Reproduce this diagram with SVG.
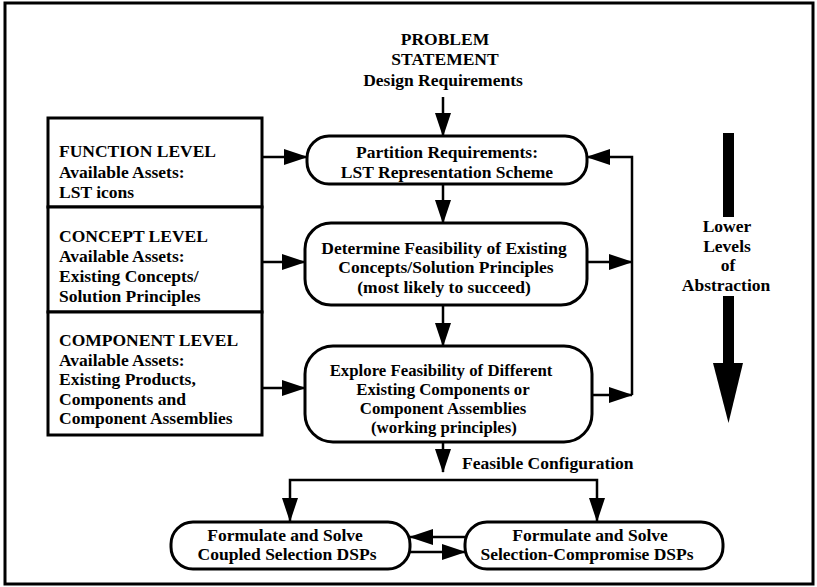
<svg xmlns="http://www.w3.org/2000/svg" width="817" height="587" viewBox="0 0 817 587">
  <style>
    text { font-family: "Liberation Serif", "Times New Roman", serif; font-size: 17.5px; font-weight: bold; fill: #000; }
    .c { text-anchor: middle; }
    .sm { font-size: 16.8px; }
    .box { fill: #fff; stroke: #000; stroke-width: 3; }
    .conn { fill: none; stroke: #000; stroke-width: 2.5; }
  </style>
  <defs>
    <marker id="arrow" markerUnits="userSpaceOnUse" markerWidth="24" markerHeight="16" viewBox="0 0 24 16" refX="23" refY="8" orient="auto">
      <path d="M0,0 L24,8 L0,16 Z" fill="#000"/>
    </marker>
  </defs>

  <rect x="0" y="0" width="817" height="587" fill="#fff"/>
  <!-- outer frame -->
  <rect x="5" y="3" width="808" height="581" fill="none" stroke="#000" stroke-width="3"/>

  <!-- problem statement -->
  <g id="problem-statement">
    <text class="c" x="445" y="45">PROBLEM</text>
    <text class="c" x="445" y="65">STATEMENT</text>
    <text class="c" x="443" y="86">Design Requirements</text>
  </g>

  <!-- asset levels -->
  <g id="function-level">
    <rect class="box" x="48" y="118" width="214" height="89"/>
    <text x="59" y="157">FUNCTION LEVEL</text>
    <text x="59" y="177.5">Available Assets:</text>
    <text x="59" y="198">LST icons</text>
  </g>
  <g id="concept-level">
    <rect class="box" x="48" y="207" width="214" height="105"/>
    <text x="59" y="242">CONCEPT LEVEL</text>
    <text x="59" y="262">Available Assets:</text>
    <text x="59" y="282">Existing Concepts/</text>
    <text x="59" y="302">Solution Principles</text>
  </g>
  <g id="component-level">
    <rect class="box" x="48" y="312" width="214" height="123"/>
    <text x="59" y="346">COMPONENT LEVEL</text>
    <text x="59" y="365.6">Available Assets:</text>
    <text x="59" y="385.2">Existing Products,</text>
    <text x="59" y="404.8">Components and</text>
    <text x="59" y="424.4">Component Assemblies</text>
  </g>

  <!-- process steps -->
  <g id="partition">
    <rect class="box" x="307" y="136" width="280" height="48" rx="22"/>
    <text class="c" x="447" y="158">Partition Requirements:</text>
    <text class="c" x="447" y="177.6">LST Representation Scheme</text>
  </g>
  <g id="determine">
    <rect class="box" x="305" y="223" width="282" height="82" rx="26"/>
    <text class="c" x="444" y="253.5">Determine Feasibility of Existing</text>
    <text class="c" x="446" y="273">Concepts/Solution Principles</text>
    <text class="c" x="444" y="292.5">(most likely to succeed)</text>
  </g>
  <g id="explore">
    <rect class="box" x="305" y="346" width="287" height="96" rx="28"/>
    <text class="c sm" x="441" y="375.5">Explore Feasibility of Different</text>
    <text class="c sm" x="443" y="394.5">Existing Components or</text>
    <text class="c sm" x="443" y="413.5">Component Assemblies</text>
    <text class="c sm" x="444" y="432.5">(working principles)</text>
  </g>
  <g id="coupled">
    <rect class="box" x="171" y="522" width="239" height="47" rx="22"/>
    <text class="c" x="285" y="540.5">Formulate and Solve</text>
    <text class="c" x="287" y="560">Coupled Selection DSPs</text>
  </g>
  <g id="compromise">
    <rect class="box" x="465" y="522" width="258" height="47" rx="22"/>
    <text class="c" x="590" y="540.5">Formulate and Solve</text>
    <text class="c" x="587" y="560">Selection-Compromise DSPs</text>
  </g>

  <!-- abstraction indicator -->
  <g id="abstraction">
    <rect x="723" y="133" width="11" height="84" fill="#000"/>
    <text class="c" x="727" y="232">Lower</text>
    <text class="c" x="727" y="251.5">Levels</text>
    <text class="c" x="728" y="271">of</text>
    <text class="c" x="726" y="290.5">Abstraction</text>
    <rect x="723" y="296" width="11" height="67" fill="#000"/>
    <polygon points="713,363 743,363 728.5,423" fill="#000"/>
  </g>

  <text id="feasible-label" x="462" y="469">Feasible Configuration</text>

  <!-- connectors -->
  <g id="connectors">
    <path class="conn" d="M443,97 V136" marker-end="url(#arrow)"/>
    <path class="conn" d="M443,184 V223" marker-end="url(#arrow)"/>
    <path class="conn" d="M443,305 V346" marker-end="url(#arrow)"/>
    <path class="conn" d="M443,442 V472" marker-end="url(#arrow)"/>

    <path class="conn" d="M262,157 H307" marker-end="url(#arrow)"/>
    <path class="conn" d="M262,262 H305" marker-end="url(#arrow)"/>
    <path class="conn" d="M262,388 H305" marker-end="url(#arrow)"/>

    <path class="conn" d="M587,262 H632" marker-end="url(#arrow)"/>
    <path class="conn" d="M592,395 H632" marker-end="url(#arrow)"/>
    <path class="conn" d="M632,395 V157 H587" marker-end="url(#arrow)"/>

    <path class="conn" d="M444,480 H290 V521" marker-end="url(#arrow)"/>
    <path class="conn" d="M444,480 H597 V521" marker-end="url(#arrow)"/>

    <path class="conn" d="M465,537 H410" marker-end="url(#arrow)"/>
    <path class="conn" d="M410,552 H465" marker-end="url(#arrow)"/>
  </g>
</svg>
